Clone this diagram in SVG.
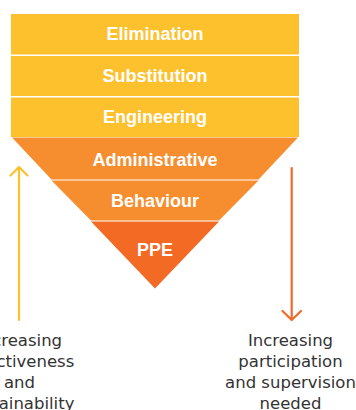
<svg xmlns="http://www.w3.org/2000/svg" width="356" height="410" viewBox="0 0 356 410">
<style>
.lbl{font-family:"Liberation Sans",Arial,sans-serif;font-weight:bold;font-size:18px;fill:#fff;text-anchor:middle}
.cap{font-family:"DejaVu Sans",sans-serif;font-size:16.5px;fill:#333;text-anchor:middle}
.sep{stroke:#fff;stroke-width:2.2}
</style>
<rect width="356" height="410" fill="#fff"/>
<g id="elimination"><rect x="11" y="14" width="288" height="40.5" fill="#FDC12E"/><text class="lbl" x="155" y="40">Elimination</text></g>
<g id="substitution"><rect x="11" y="56" width="288" height="40" fill="#FDC12E"/><text class="lbl" x="155" y="82">Substitution</text></g>
<g id="engineering"><rect x="11" y="97.5" width="288" height="39.5" fill="#FDC12E"/><text class="lbl" x="155" y="123">Engineering</text></g>
<g id="administrative"><polygon points="12,137.5 298,137.5 258.5,179.5 51.5,179.5" fill="#F68D2E"/><text class="lbl" x="155" y="166">Administrative</text></g>
<g id="behaviour"><polygon points="51.5,180.5 258.5,180.5 219,220.5 91,220.5" fill="#F68D2E"/><text class="lbl" x="155" y="207">Behaviour</text></g>
<g id="ppe"><polygon points="91,221.5 219,221.5 155,288.5" fill="#F26A23"/><text class="lbl" x="155" y="256">PPE</text></g>
<g id="connectors" fill="none" stroke-width="2.2" stroke-linecap="round" stroke-linejoin="round">
<path d="M19,320 V168 M10.5,175.5 L19,167 L27.5,175.5" stroke="#FDC12E"/>
<path d="M291.7,168 V319 M282.5,311 L291.7,320 L301,311" stroke="#F26A2A"/>
</g>
<g id="left-caption"><text class="cap" x="19.5" y="345.5">Increasing</text><text class="cap" x="19.5" y="366.5">effectiveness</text><text class="cap" x="19.5" y="387.5">and</text><text class="cap" x="19.5" y="408.5">sustainability</text></g>
<g id="right-caption"><text class="cap" x="290.5" y="345.5">Increasing</text><text class="cap" x="290.5" y="366.5">participation</text><text class="cap" x="290.5" y="387.5">and supervision</text><text class="cap" x="290.5" y="408.5">needed</text></g>
</svg>
